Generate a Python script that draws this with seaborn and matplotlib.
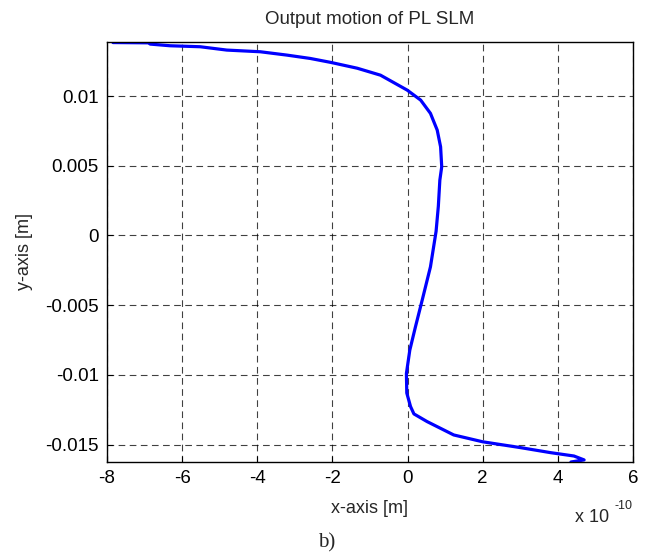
import matplotlib
matplotlib.use("Agg")
import matplotlib.pyplot as plt
import seaborn as sns
import pandas as pd

# Curve (x in units of 1e-10 m, y in m)
x_vals = [-7.84, -6.90, -6.85, -6.32, -5.52, -4.81, -3.92, -3.21, -2.59, -2.05,
          -1.34, -0.72, -0.01, 0.35, 0.61, 0.79, 0.88, 0.91, 0.86, 0.82,
          0.76, 0.61, 0.39, 0.21, 0.06, -0.03, -0.02, 0.08, 0.17, 0.52,
          1.23, 2.00, 3.01, 3.81, 4.43, 4.70, 4.35]
y_vals = [0.01384, 0.01382, 0.01373, 0.01361, 0.01354, 0.01330, 0.01318, 0.01294, 0.01270, 0.01242,
          0.01200, 0.01150, 0.01043, 0.00971, 0.00876, 0.00756, 0.00636, 0.00493, 0.00397, 0.00210,
          0.00030, -0.00225, -0.00464, -0.00656, -0.00823, -0.00990, -0.01130, -0.01227, -0.01280, -0.01335,
          -0.01431, -0.01480, -0.01522, -0.01558, -0.01582, -0.01610, -0.01625]

x_ticks = [-8, -6, -4, -2, 0, 2, 4, 6]
y_ticks = [-0.015, -0.01, -0.005, 0, 0.005, 0.01]
y_tick_labels = ["-0.015", "-0.01", "-0.005", "0", "0.005", "0.01"]

df = pd.DataFrame({"x": x_vals, "y": y_vals})

sns.set_style("ticks")
plt.rcParams["font.family"] = ["Liberation Sans", "DejaVu Sans"]

fig = plt.figure(figsize=(6.46, 5.6), dpi=100)
ax = fig.add_axes([0.1656, 0.175, 0.8142, 0.75])

sns.lineplot(data=df, x="x", y="y", sort=False, estimator=None,
             color="#0000ff", linewidth=2.3, ax=ax)

ax.set_xlim(-8, 6)
ax.set_ylim(-0.01625, 0.01388)
ax.set_xticks(x_ticks)
ax.set_xticklabels([str(t) for t in x_ticks])
ax.set_yticks(y_ticks)
ax.set_yticklabels(y_tick_labels)

ax.grid(True, color="black", linestyle=(0, (6, 4)), linewidth=0.8, alpha=0.75)
ax.tick_params(direction="in", length=4, width=0.8, labelsize=13.5, colors="black", pad=6)
for s in ax.spines.values():
    s.set_color("black")
    s.set_linewidth(1.0)

ax.set_title("Output motion of PL SLM", fontsize=13.5, pad=13)
ax.set_xlabel("x-axis [m]", fontsize=13, labelpad=9)
ax.set_ylabel("y-axis [m]", fontsize=13, labelpad=9)

fig.text(0.89, 0.075, "x 10", fontsize=13, ha="left", va="center")
fig.text(0.952, 0.097, "-10", fontsize=9, ha="left", va="center")
fig.text(0.505, 0.031, "b)", fontsize=15, ha="center", va="center",
         family=["Liberation Serif", "DejaVu Serif"])

fig.savefig("out.png", dpi=100)
